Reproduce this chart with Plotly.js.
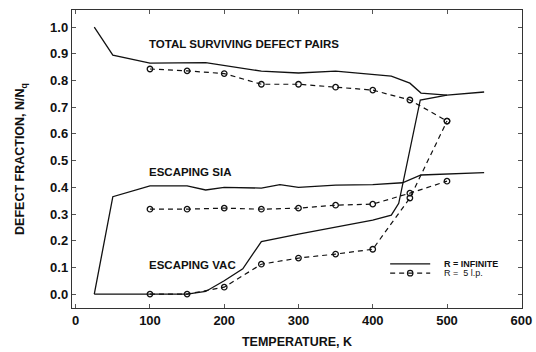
<!DOCTYPE html>
<html>
<head>
<meta charset="utf-8">
<script src="https://cdn.plot.ly/plotly-3.0.1.min.js"></script>
<style>html,body{margin:0;padding:0;background:#fff;}#chart{width:536px;height:352px;}</style>
</head>
<body>
<div id="chart"></div>
<script>
// Temperatures (K) and defect fractions N/Nq
var totalInfT = [25, 50, 100, 175, 250, 300, 350, 425, 450, 465, 500, 550];
var totalInfV = [1.0, 0.895, 0.865, 0.867, 0.835, 0.828, 0.835, 0.816, 0.79, 0.753, 0.745, 0.757];

var siaInfT = [25, 50, 100, 150, 175, 200, 250, 275, 300, 350, 400, 440, 465, 500, 550];
var siaInfV = [0.0, 0.365, 0.405, 0.405, 0.39, 0.40, 0.397, 0.41, 0.40, 0.408, 0.41, 0.417, 0.446, 0.45, 0.455];

var vacInfT = [25, 100, 150, 175, 200, 225, 250, 300, 350, 400, 425, 435, 464, 500];
var vacInfV = [0.0, 0.0, 0.0, 0.01, 0.05, 0.095, 0.197, 0.225, 0.25, 0.277, 0.296, 0.34, 0.727, 0.745];

var lpT = [100, 150, 200, 250, 300, 350, 400, 450, 500];
var totalLpV = [0.843, 0.836, 0.826, 0.786, 0.786, 0.775, 0.764, 0.727, 0.648];
var siaLpV = [0.318, 0.318, 0.322, 0.318, 0.322, 0.333, 0.337, 0.378, 0.423];
var vacLpV = [0.0, 0.0, 0.026, 0.112, 0.135, 0.15, 0.168, 0.36, 0.648];

var xTicks = [0, 100, 200, 300, 400, 500, 600];
var yTicks = [0.0, 0.1, 0.2, 0.3, 0.4, 0.5, 0.6, 0.7, 0.8, 0.9, 1.0];

var labelInf = 'R = INFINITE';
var labelLp = 'R =  5 l.p.';

var INK = '#111';
var solid = {color: INK, width: 1.3};
var dashed = {color: INK, width: 1.2, dash: '5px,4px'};
var mk = {symbol: 'circle-open', size: 5.5, color: INK, line: {width: 1.3, color: INK}};

var traces = [
  {x: totalInfT, y: totalInfV, mode: 'lines', line: solid, name: labelInf, showlegend: false},
  {x: siaInfT, y: siaInfV, mode: 'lines', line: solid, name: labelInf, showlegend: false},
  {x: vacInfT, y: vacInfV, mode: 'lines', line: solid, name: labelInf, showlegend: false},
  {x: lpT, y: totalLpV, mode: 'lines+markers', line: dashed, marker: mk, name: labelLp, showlegend: false},
  {x: lpT, y: siaLpV, mode: 'lines+markers', line: dashed, marker: mk, name: labelLp, showlegend: false},
  {x: lpT, y: vacLpV, mode: 'lines+markers', line: dashed, marker: mk, name: labelLp, showlegend: false}
];

var F = 'Liberation Sans, Arial, sans-serif';
var axisCommon = {
  showgrid: false, zeroline: false, showline: true, linecolor: '#333', linewidth: 1.2,
  mirror: 'ticks', ticks: 'inside', ticklen: 4, tickcolor: '#555', tickwidth: 1,
  tickfont: {family: F, size: 13, color: INK, weight: 'bold'}
};

// legend drawn in paper coordinates (plot area: 72..522 px wide, 10..308 px tall)
var legX0 = 0.707, legX1 = 0.796, legTextX = 0.822;
var legY1 = 0.148, legY2 = 0.117;

var layout = {
  width: 536, height: 352,
  margin: {l: 72, r: 14, t: 10, b: 44},
  paper_bgcolor: '#fff', plot_bgcolor: '#fff',
  font: {family: F, color: INK},
  showlegend: false,
  xaxis: Object.assign({}, axisCommon, {
    range: [-5, 601], tickvals: xTicks, ticktext: xTicks.map(String),
    title: {text: 'TEMPERATURE, K', font: {family: F, size: 12.5, weight: 'bold', color: INK}, standoff: 10}
  }),
  yaxis: Object.assign({}, axisCommon, {
    range: [-0.052, 1.064], tickvals: yTicks, ticktext: yTicks.map(function(v){return v.toFixed(1);}),
    title: {text: 'DEFECT FRACTION, N/N<sub>q</sub>', font: {family: F, size: 12.5, weight: 'bold', color: INK}, standoff: 22}
  }),
  shapes: [
    {type: 'line', xref: 'paper', yref: 'paper', x0: legX0, x1: legX1, y0: legY1, y1: legY1, line: {color: INK, width: 1.3}},
    {type: 'line', xref: 'paper', yref: 'paper', x0: legX0, x1: legX1, y0: legY2, y1: legY2, line: {color: INK, width: 1.2, dash: '5px,4px'}},
    {type: 'circle', xref: 'paper', yref: 'paper', x0: 0.7455, x1: 0.7575, y0: legY2 - 0.0095, y1: legY2 + 0.0095, line: {color: INK, width: 1.2}, fillcolor: 'rgba(0,0,0,0)'}
  ],
  annotations: [
    {x: 96, y: 0.937, xref: 'x', yref: 'y', xanchor: 'left', yanchor: 'middle', showarrow: false,
     text: 'TOTAL SURVIVING DEFECT PAIRS', font: {family: F, size: 11.5, weight: 'bold', color: INK}},
    {x: 96, y: 0.458, xref: 'x', yref: 'y', xanchor: 'left', yanchor: 'middle', showarrow: false,
     text: 'ESCAPING SIA', font: {family: F, size: 11.5, weight: 'bold', color: INK}},
    {x: 96, y: 0.108, xref: 'x', yref: 'y', xanchor: 'left', yanchor: 'middle', showarrow: false,
     text: 'ESCAPING VAC', font: {family: F, size: 11.5, weight: 'bold', color: INK}},
    {x: legTextX, y: legY1, xref: 'paper', yref: 'paper', xanchor: 'left', yanchor: 'middle', showarrow: false,
     text: labelInf, font: {family: F, size: 9, weight: 'bold', color: INK}},
    {x: legTextX, y: legY2, xref: 'paper', yref: 'paper', xanchor: 'left', yanchor: 'middle', showarrow: false,
     text: labelLp, font: {family: F, size: 9, color: INK}}
  ]
};

Plotly.newPlot('chart', traces, layout, {displayModeBar: false, staticPlot: true});
</script>
</body>
</html>
